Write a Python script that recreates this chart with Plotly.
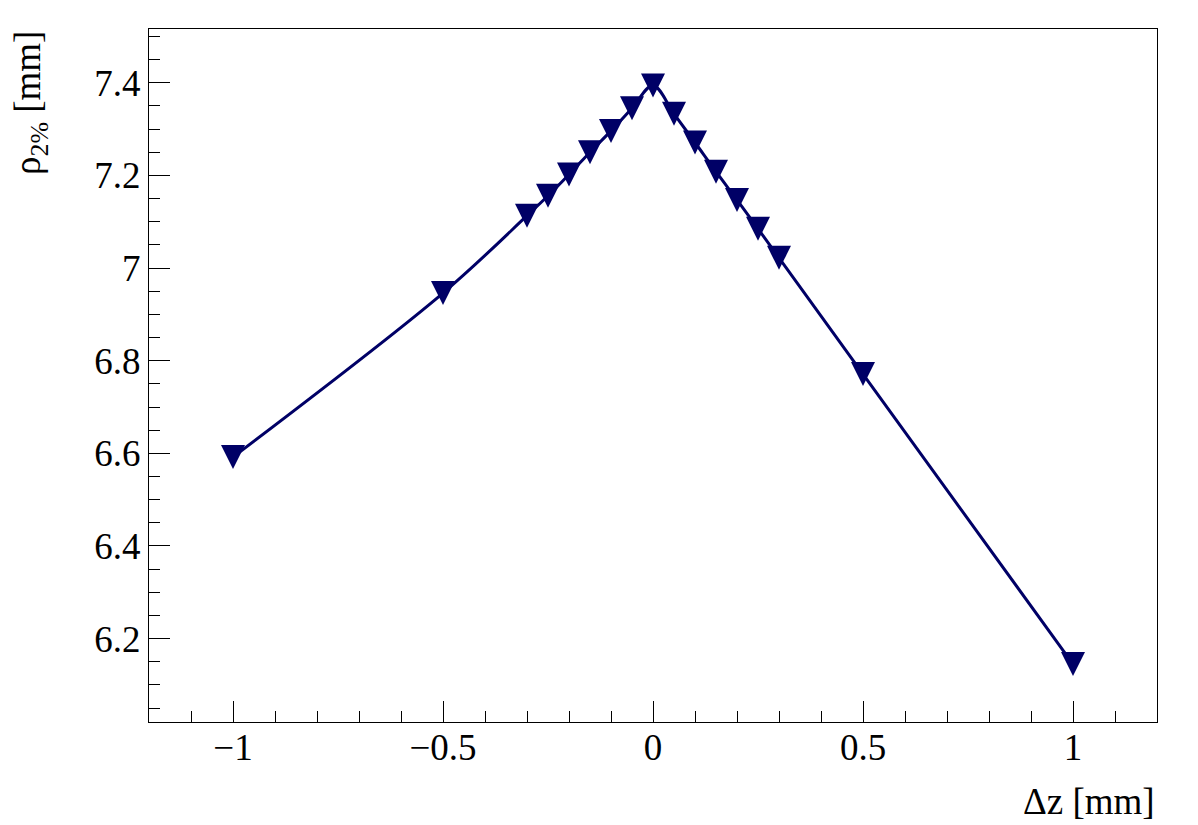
import plotly.graph_objects as go

dz = [-1.0, -0.5, -0.3, -0.25, -0.2, -0.15, -0.1, -0.05, 0.0, 0.05, 0.1, 0.15, 0.2, 0.25, 0.3, 0.5, 1.0]
rho = [6.592, 6.946, 7.113, 7.156, 7.202, 7.250, 7.296, 7.345, 7.394, 7.333, 7.271, 7.208, 7.147, 7.085, 7.022, 6.771, 6.145]

x_title = "Δz [mm]"
y_title = "ρ<sub>2%</sub> [mm]"

color = "#000066"
font_family = "Liberation Serif"
fsize = 37

fig = go.Figure()
fig.add_trace(go.Scatter(
    x=dz, y=rho, mode="lines",
    line=dict(color=color, width=3, shape="spline", smoothing=1),
    hoverinfo="x+y", showlegend=False,
))

# ROOT-style full triangle-down markers (equal width/height), anchored at data points
half = 12
tri_path = f"M {-half},{half} L {half},{half} L 0,{-half} Z"
shapes = []
for xv, yv in zip(dz, rho):
    shapes.append(dict(
        type="path", xref="x", yref="y",
        xsizemode="pixel", ysizemode="pixel",
        xanchor=xv, yanchor=yv, path=tri_path,
        fillcolor=color, line=dict(color=color, width=0),
        layer="above",
    ))

# page body has an 8px margin, so the figure is sized/offset to compensate
fig.update_layout(
    width=1190, height=817,
    margin=dict(l=141, r=41, t=21, b=103),
    paper_bgcolor="white", plot_bgcolor="white",
    font=dict(family=font_family, size=fsize, color="black"),
    shapes=shapes,
    showlegend=False,
    annotations=[
        dict(text=x_title, xref="paper", yref="paper", x=1, y=0,
             xanchor="right", yanchor="middle", yshift=-79, showarrow=False,
             font=dict(family=font_family, size=fsize, color="black")),
        dict(text=y_title, xref="paper", yref="paper", x=0, y=1,
             xanchor="center", yanchor="top", xshift=-119, textangle=-90,
             showarrow=False,
             font=dict(family=font_family, size=fsize, color="black")),
    ],
)

fig.update_xaxes(
    range=[-1.2, 1.2], tick0=0, dtick=0.5,
    ticks="inside", ticklen=21, tickwidth=1, tickcolor="black",
    minor=dict(dtick=0.1, tick0=0, ticks="inside", ticklen=11, tickwidth=1, tickcolor="black"),
    showline=True, linecolor="black", linewidth=1, mirror=True,
    showgrid=False, zeroline=False, ticklabelstandoff=-7,
    tickfont=dict(family=font_family, size=fsize, color="black"),
)
fig.update_yaxes(
    range=[6.02, 7.516], tick0=6.2, dtick=0.2,
    ticks="inside", ticklen=21, tickwidth=1, tickcolor="black",
    minor=dict(dtick=0.05, tick0=6.2, ticks="inside", ticklen=11, tickwidth=1, tickcolor="black"),
    showline=True, linecolor="black", linewidth=1, mirror=True,
    showgrid=False, zeroline=False,
    tickfont=dict(family=font_family, size=fsize, color="black"),
)

fig.write_html("out.html")
